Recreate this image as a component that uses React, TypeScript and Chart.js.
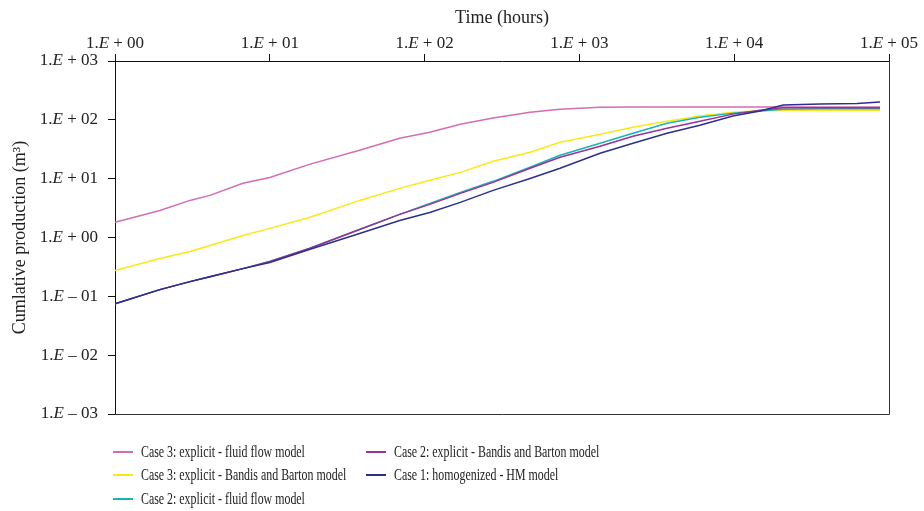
import React, { useEffect, useRef } from "react";
import { Chart, registerables } from "chart.js";

Chart.register(...registerables);

// ---- data ----
const timeHours = [1, 1.95, 3.05, 4.1, 6.7, 10, 18, 38, 69, 108, 170, 277, 480, 750, 1360, 2220, 3680, 6000, 9800, 14700, 20700, 36000, 62000, 87500];

const case3Fluid = [1.82, 2.88, 4.27, 5.2, 8.33, 10.5, 17.5, 30.4, 48.7, 61.6, 84.4, 107, 135, 152, 164, 166, 166, 166, 166, 166, 166, 166, 166, 166];
const case3Bandis = [0.274, 0.439, 0.578, 0.731, 1.08, 1.43, 2.19, 4.27, 6.84, 9.37, 12.8, 19.8, 28.1, 41.6, 57.0, 75.0, 94.9, 116, 135, 143, 146, 146, 146, 146];
const case2Fluid = [0.075, 0.13, 0.178, 0.216, 0.296, 0.39, 0.65, 1.37, 2.47, 3.8, 5.85, 9.01, 15.6, 25.0, 40.0, 59.3, 87.8, 111, 130, 141, 152, 155, 155, 155];
const case2Bandis = [0.075, 0.13, 0.178, 0.216, 0.296, 0.39, 0.65, 1.37, 2.47, 3.66, 5.62, 8.66, 15.0, 23.1, 35.6, 52.7, 72.1, 94.9, 125, 146, 161, 161, 161, 161];
const case1HM = [0.075, 0.13, 0.178, 0.216, 0.296, 0.375, 0.625, 1.17, 1.95, 2.67, 3.95, 6.33, 10.1, 15.0, 27.0, 40.0, 59.3, 81.1, 116, 141, 178, 186, 190, 200];

const xTickValues = [1, 10, 100, 1000, 10000, 100000];
const xTickLabels = ["1.E + 00", "1.E + 01", "1.E + 02", "1.E + 03", "1.E + 04", "1.E + 05"];
const yTickValues = [0.001, 0.01, 0.1, 1, 10, 100, 1000];
const yTickLabels = ["1.E – 03", "1.E – 02", "1.E – 01", "1.E + 00", "1.E + 01", "1.E + 02", "1.E + 03"];

const seriesNames = [
  "Case 3: explicit - fluid flow model",
  "Case 3: explicit - Bandis and Barton model",
  "Case 2: explicit - fluid flow model",
  "Case 2: explicit - Bandis and Barton model",
  "Case 1: homogenized - HM model",
];
const seriesValues = [case3Fluid, case3Bandis, case2Fluid, case2Bandis, case1HM];
const seriesColors = ["#d46cb4", "#f7ea14", "#17b4b6", "#9a3196", "#2c2f8e"];
const seriesOrder = [4, 3, 2, 1, 0];

// legend layout: column-major
const legendColumns = [[0, 1, 2], [3, 4]];

const SERIF = '"Liberation Serif", "DejaVu Serif", serif';

function drawSci(ctx: CanvasRenderingContext2D, label: string, x: number, y: number, align: "center" | "right") {
  const i = label.indexOf("E");
  const a = label.slice(0, i);
  const b = label.slice(i + 1);
  const normal = `17px ${SERIF}`;
  const italic = `italic 17px ${SERIF}`;
  ctx.font = normal;
  const wa = ctx.measureText(a).width;
  const wb = ctx.measureText(b).width;
  ctx.font = italic;
  const we = ctx.measureText("E").width;
  const total = wa + we + wb;
  const x0 = align === "center" ? x - total / 2 : x - total;
  ctx.textAlign = "left";
  ctx.font = normal;
  ctx.fillText(a, x0, y);
  ctx.font = italic;
  ctx.fillText("E", x0 + wa, y);
  ctx.font = normal;
  ctx.fillText(b, x0 + wa + we, y);
}

const framePlugin = {
  id: "frameAndLabels",
  afterDraw(chart: any) {
    const { ctx, chartArea, scales } = chart;
    ctx.save();
    ctx.strokeStyle = "#333";
    ctx.lineWidth = 1;
    ctx.beginPath();
    ctx.moveTo(chartArea.left, chartArea.bottom + 0.5);
    ctx.lineTo(chartArea.right + 0.5, chartArea.bottom + 0.5);
    ctx.lineTo(chartArea.right + 0.5, chartArea.top);
    ctx.stroke();

    ctx.fillStyle = "#222";
    const xs = scales.x;
    ctx.textBaseline = "alphabetic";
    xTickValues.forEach((v, k) => {
      drawSci(ctx, xTickLabels[k], xs.getPixelForValue(v), xs.bottom - 13, "center");
    });
    const ys = scales.y;
    ctx.textBaseline = "middle";
    yTickValues.forEach((v, k) => {
      drawSci(ctx, yTickLabels[k], ys.right - 17, ys.getPixelForValue(v), "right");
    });
    ctx.restore();
  },
};

export default function App() {
  const ref = useRef<HTMLCanvasElement | null>(null);

  useEffect(() => {
    if (!ref.current) return;
    const datasets = seriesNames.map((name, s) => ({
      label: name,
      data: timeHours.map((t, i) => ({ x: t, y: seriesValues[s][i] })),
      borderColor: seriesColors[s],
      backgroundColor: seriesColors[s],
      borderWidth: 1.5,
      pointRadius: 0,
      tension: 0,
      fill: false,
      order: seriesOrder[s],
    }));
    const chart = new Chart(ref.current, {
      type: "line",
      data: { datasets },
      plugins: [framePlugin],
      options: {
        animation: false,
        responsive: false,
        maintainAspectRatio: false,
        layout: { padding: { left: 0, right: 35, top: 0, bottom: 97 } },
        plugins: { legend: { display: false }, tooltip: { enabled: false } },
        scales: {
          x: {
            type: "logarithmic",
            position: "top",
            min: 1,
            max: 100000,
            afterBuildTicks: (s: any) => {
              s.ticks = xTickValues.map((v) => ({ value: v }));
            },
            afterFit: (s: any) => {
              s.height = 61;
            },
            ticks: { display: false },
            grid: { drawOnChartArea: false, drawTicks: true, tickLength: 7, color: "#111", lineWidth: 1 },
            border: { display: true, color: "#111", width: 1 },
            title: {
              display: true,
              text: "Time (hours)",
              color: "#222",
              font: { family: SERIF, size: 18 },
              padding: { top: 7, bottom: 0 },
            },
          },
          y: {
            type: "logarithmic",
            position: "left",
            min: 0.001,
            max: 1000,
            afterBuildTicks: (s: any) => {
              s.ticks = yTickValues.map((v) => ({ value: v }));
            },
            afterFit: (s: any) => {
              s.width = 115;
            },
            ticks: { display: false },
            grid: { drawOnChartArea: false, drawTicks: true, tickLength: 7, color: "#111", lineWidth: 1 },
            border: { display: true, color: "#111", width: 1 },
            title: {
              display: true,
              text: "Cumlative production (m³)",
              color: "#222",
              font: { family: SERIF, size: 18 },
              padding: { top: 9, bottom: 0 },
            },
          },
        },
      } as any,
    });
    return () => chart.destroy();
  }, []);

  return (
    <div style={{ position: "absolute", left: 0, top: 0, width: 924, height: 511, overflow: "hidden", background: "#fff" }}>
      <canvas ref={ref} width={924} height={511} style={{ display: "block", width: 924, height: 511 }} />
      <div style={{ position: "absolute", left: 113, top: 440, display: "flex" }}>
        {legendColumns.map((col, c) => (
          <div key={c} style={{ width: c === 0 ? 253 : 300, flexShrink: 0 }}>
            {col.map((s) => (
              <div key={s} style={{ display: "flex", alignItems: "center", height: 23.5, width: 300 }}>
                <span
                  style={{
                    display: "inline-block",
                    flexShrink: 0,
                    width: 20,
                    height: 2,
                    background: seriesColors[s],
                    marginRight: 8,
                  }}
                />
                <span
                  style={{
                    fontFamily: SERIF,
                    fontSize: 17,
                    color: "#222",
                    whiteSpace: "nowrap",
                    display: "inline-block",
                    flexShrink: 0,
                    transform: "scaleX(0.7)",
                    transformOrigin: "left center",
                  }}
                >
                  {seriesNames[s]}
                </span>
              </div>
            ))}
          </div>
        ))}
      </div>
    </div>
  );
}
